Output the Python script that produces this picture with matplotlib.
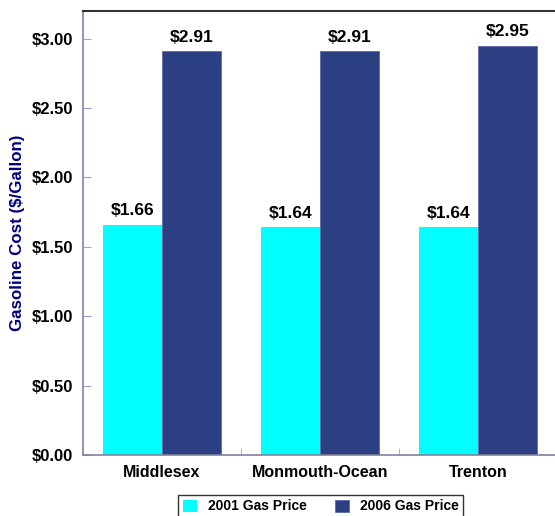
import matplotlib
matplotlib.use("Agg")
import matplotlib.pyplot as plt
import numpy as np

plt.rcParams['font.family'] = ['Liberation Sans', 'DejaVu Sans']
plt.rcParams['font.weight'] = 'bold'

regions = ['Middlesex', 'Monmouth-Ocean', 'Trenton']
price_2001 = [1.66, 1.64, 1.64]
price_2006 = [2.91, 2.91, 2.95]
yticks = [0.0, 0.5, 1.0, 1.5, 2.0, 2.5, 3.0]

fig = plt.figure(figsize=(5.55, 5.16), dpi=100)
ax = fig.add_axes([0.1495, 0.118, 0.855, 0.861])

x = np.arange(len(regions))
w = 0.373
b1 = ax.bar(x - w / 2, price_2001, w, color='#00FFFF', label='2001 Gas Price')
b2 = ax.bar(x + w / 2, price_2006, w, color='#2B3F82', edgecolor='#5A6AA8',
            linewidth=0.6, label='2006 Gas Price')

for bars in (b1, b2):
    for r in bars:
        ax.text(r.get_x() + r.get_width() / 2, r.get_height() + 0.045,
                '${:.2f}'.format(r.get_height()), ha='center', va='bottom',
                fontsize=12.5, fontweight='bold')

ax.set_xlim(-0.5, 2.5)
ax.set_ylim(0, 3.2)
ax.set_yticks(yticks)
ax.set_yticklabels(['${:.2f}'.format(v) for v in yticks], fontsize=12, fontweight='bold')
ax.set_xticks(x)
ax.set_xticklabels(regions, fontsize=11.5, fontweight='bold')
ax.set_xticks([0.5, 1.5], minor=True)
ax.tick_params(axis='x', which='major', length=0, pad=7)
ax.tick_params(axis='x', which='minor', direction='in', length=5, color='#A0A0D0')
ax.tick_params(axis='y', direction='in', length=6, color='#A0A0D0', pad=7)

ax.spines['left'].set_color('#8080A0')
ax.spines['left'].set_linewidth(1.2)
ax.spines['bottom'].set_color('#8080A0')
ax.spines['bottom'].set_linewidth(1.2)
ax.spines['top'].set_color('#333333')
ax.spines['top'].set_linewidth(1.5)
ax.spines['right'].set_visible(False)

ax.set_ylabel('Gasoline Cost ($/Gallon)', color='#000080', fontsize=12.2,
              fontweight='bold')
ax.yaxis.set_label_coords(-0.122, 0.5)

leg = fig.legend(loc='lower center', bbox_to_anchor=(0.578, -0.018), ncol=2,
                 frameon=True, fancybox=False, fontsize=10, handlelength=1.0,
                 handleheight=1.0, columnspacing=2.0, borderpad=0.35)
leg.get_frame().set_edgecolor('black')
leg.get_frame().set_linewidth(1.0)

fig.savefig('out.png', dpi=100)
